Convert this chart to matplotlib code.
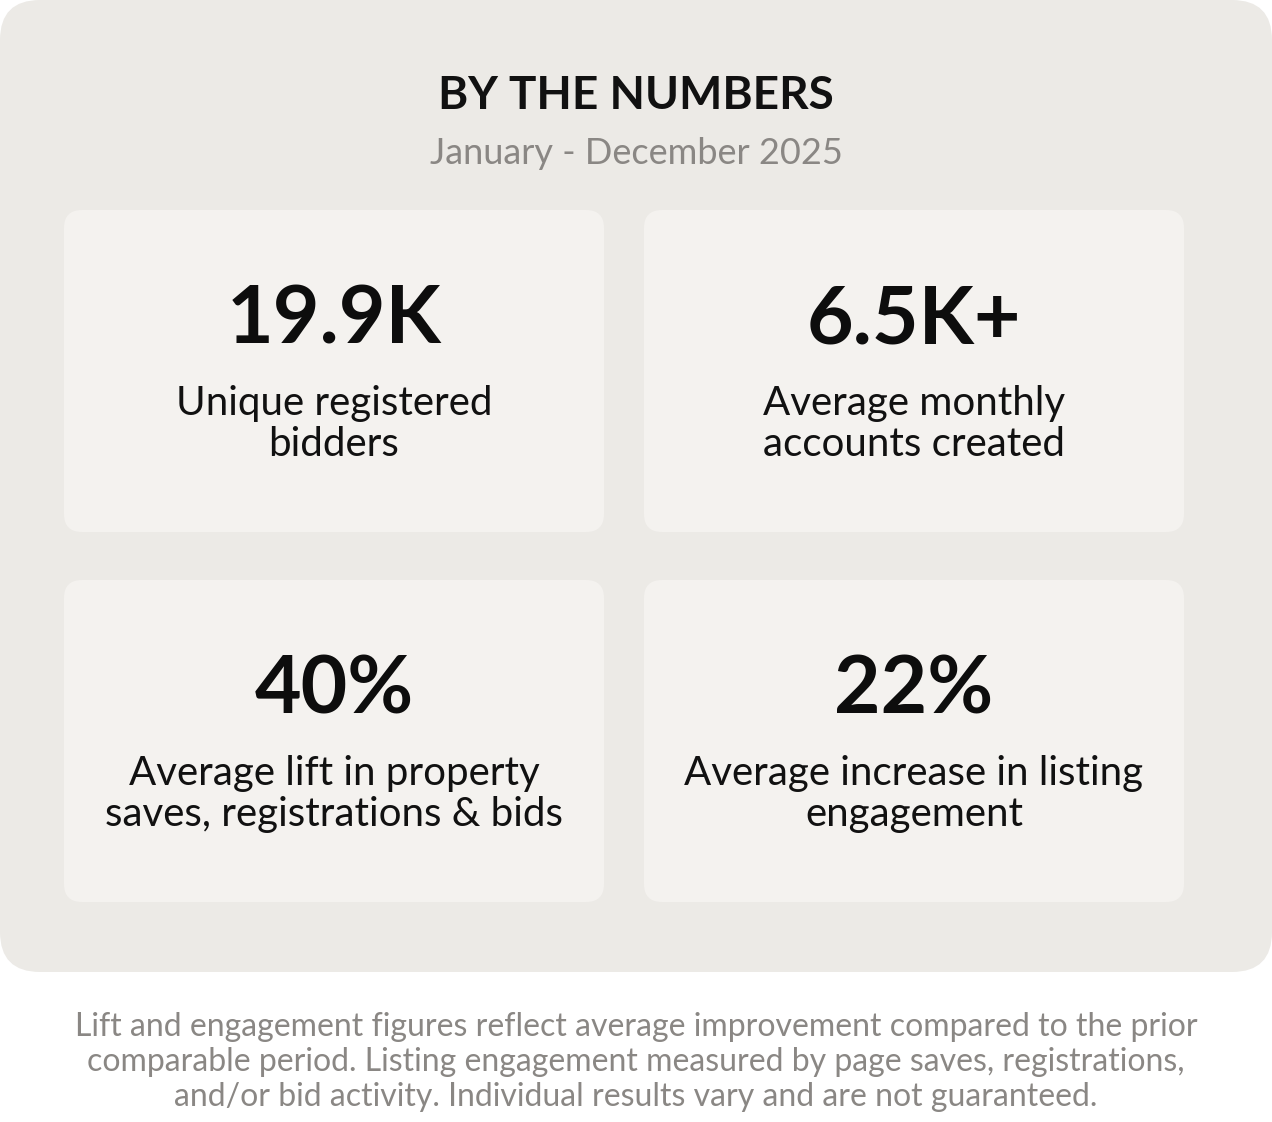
import matplotlib
matplotlib.use("Agg")
import matplotlib.pyplot as plt
from matplotlib.patches import FancyBboxPatch

title = "BY THE NUMBERS"
subtitle = "January - December 2025"
values = ["19.9K", "6.5K+", "40%", "22%"]
labels = ["Unique registered\nbidders", "Average monthly\naccounts created",
          "Average lift in property\nsaves, registrations & bids",
          "Average increase in listing\nengagement"]
footnote = ("Lift and engagement figures reflect average improvement compared to the prior\n"
            "comparable period. Listing engagement measured by page saves, registrations,\n"
            "and/or bid activity. Individual results vary and are not guaranteed.")

plt.rcParams['font.family'] = ['Lato', 'DejaVu Sans']
fig = plt.figure(figsize=(12.72, 11.22), dpi=100)
ax = fig.add_axes([0, 0, 1, 1])
ax.set_xlim(0, 1272); ax.set_ylim(1122, 0); ax.axis('off')

ax.add_patch(FancyBboxPatch((0, 0), 1272, 972, boxstyle="round,pad=0,rounding_size=40",
                            fc="#ECEAE6", ec="none"))
ax.text(636, 96, title, ha='center', va='center', fontsize=33, fontweight='bold', color='#111111')
ax.text(636, 153, subtitle, ha='center', va='center', fontsize=26, color='#8A8784')

pos = [(64, 210), (644, 210), (64, 580), (644, 580)]
for (x, y), v, l in zip(pos, values, labels):
    ax.add_patch(FancyBboxPatch((x, y), 540, 322, boxstyle="round,pad=0,rounding_size=18",
                                fc="#F4F2EF", ec="none"))
    ax.text(x + 270, y + 110, v, ha='center', va='center', fontsize=58, fontweight='bold', color='#0D0D0D')
    ax.text(x + 270, y + 214, l, ha='center', va='center', fontsize=29, color='#111111', linespacing=1.15)

ax.text(636, 1062, footnote, ha='center', va='center', fontsize=23, color='#8A8784', linespacing=1.2)
fig.savefig("out.png", dpi=100, facecolor='white')
